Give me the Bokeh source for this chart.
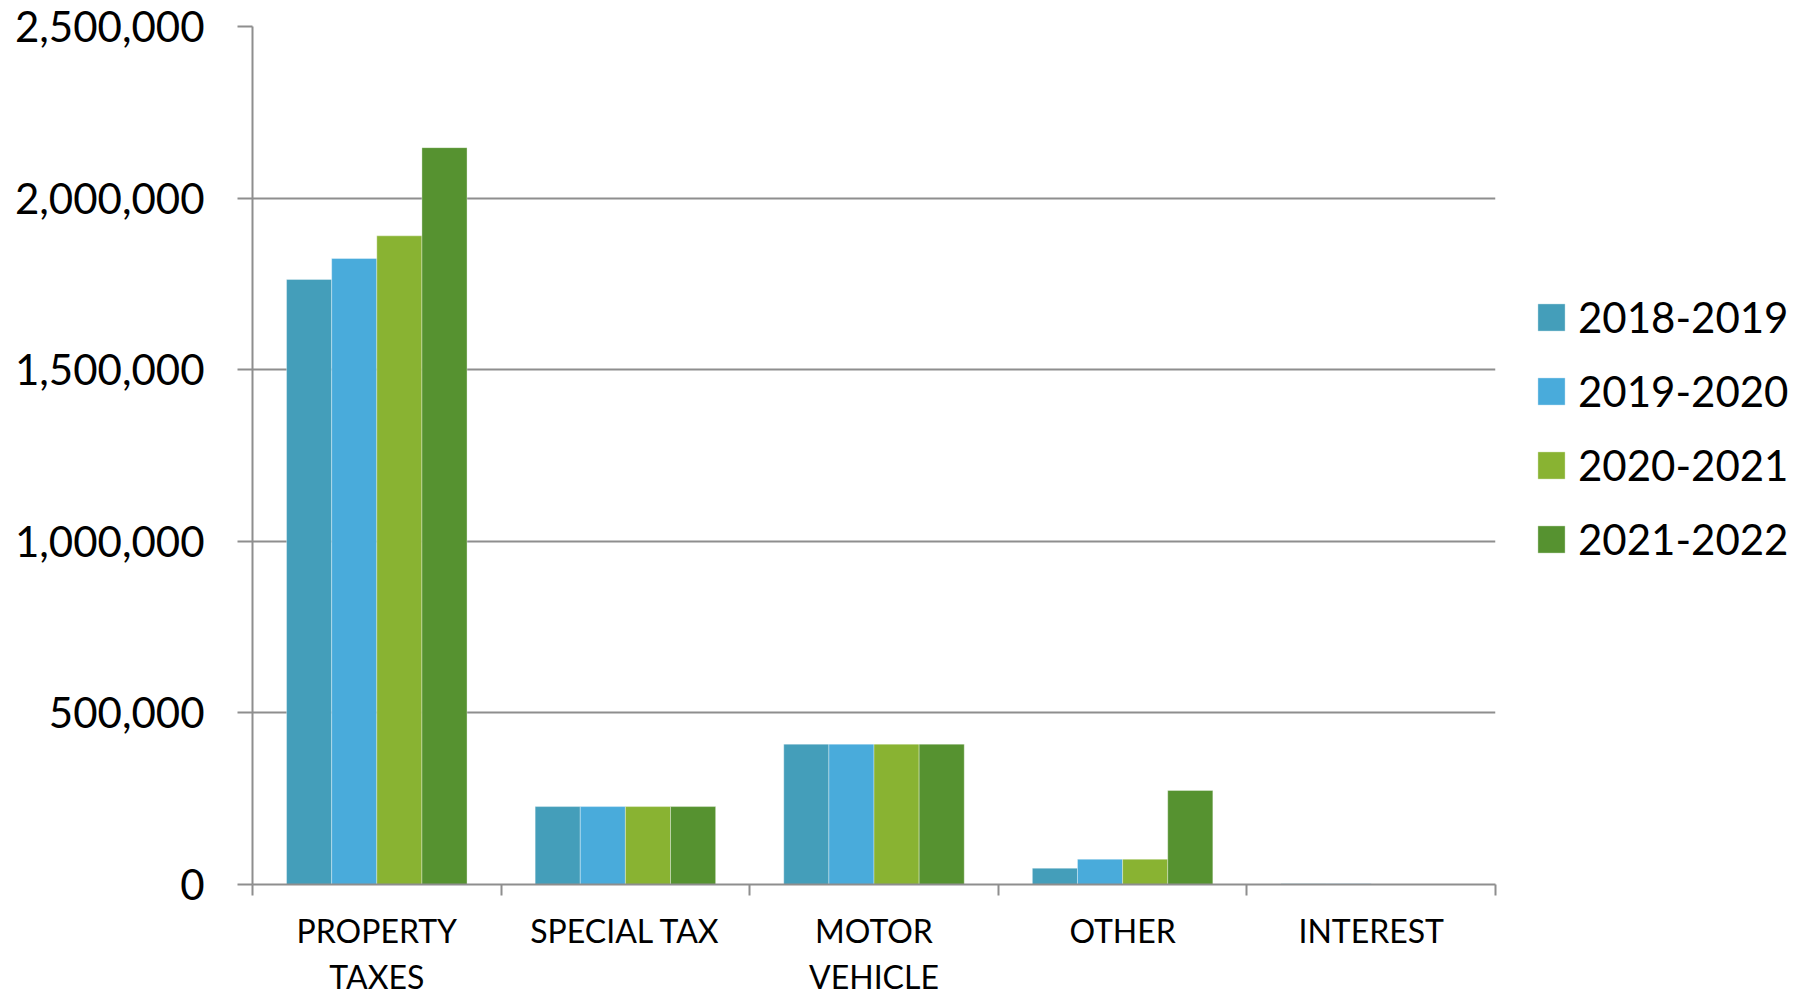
from bokeh.plotting import figure
from bokeh.models import (ColumnDataSource, Range1d, FixedTicker, NumeralTickFormatter,
                          CustomJSTickFormatter, Legend, LegendItem)
from bokeh.embed import file_html
from bokeh.resources import INLINE

# ---- data ----
categories = ["PROPERTY\nTAXES", "SPECIAL TAX", "MOTOR\nVEHICLE", "OTHER", "INTEREST"]
series_names = ["2018-2019", "2019-2020", "2020-2021", "2021-2022"]
v_2018_2019 = [1763000, 227000, 409000, 47500, 2000]
v_2019_2020 = [1824000, 227000, 409000, 73700, 2000]
v_2020_2021 = [1890000, 227000, 409000, 73700, 1500]
v_2021_2022 = [2147000, 227000, 409000, 274000, 1000]
series_values = [v_2018_2019, v_2019_2020, v_2020_2021, v_2021_2022]
y_ticks = [0, 500000, 1000000, 1500000, 2000000, 2500000]

colors = ["#449EBA", "#49ABDB", "#89B332", "#569230"]
FONT = "Lato"
GRID = "#8E8E8E"

n_cat = len(categories)
group_width = 0.726
bar_w = group_width / len(series_names)

p = figure(frame_width=1243, frame_height=858, output_backend="svg", toolbar_location=None,
           x_range=Range1d(0, n_cat), y_range=Range1d(0, y_ticks[-1]))
p.min_border_left = 252
p.min_border_right = 295
p.min_border_top = 26
p.min_border_bottom = 90
p.outline_line_color = None
p.background_fill_color = "white"
p.border_fill_color = "white"

renderers = []
for j, (name, vals) in enumerate(zip(series_names, series_values)):
    xs = [i + 0.5 + (j - (len(series_names) - 1) / 2) * bar_w for i in range(n_cat)]
    src = ColumnDataSource(dict(x=xs, top=vals))
    r = p.vbar(x="x", top="top", bottom=0, width=bar_w, source=src,
               fill_color=colors[j], line_color="white", line_alpha=0.35, line_width=1)
    renderers.append((name, r))

# y axis
yax = p.yaxis[0]
yax.ticker = FixedTicker(ticks=y_ticks)
yax.formatter = NumeralTickFormatter(format="0,0")
yax.major_tick_out = 15
yax.major_tick_in = 0
yax.minor_tick_out = 0
yax.minor_tick_in = 0
yax.axis_line_color = GRID
yax.axis_line_width = 2
yax.major_tick_line_color = GRID
yax.major_tick_line_width = 2
yax.major_label_standoff = 33
yax.major_label_text_font = FONT
yax.major_label_text_font_size = "42px"
yax.major_label_text_color = "black"

# x axis: labels at category centres, ticks at category boundaries
xax = p.xaxis[0]
xax.ticker = FixedTicker(ticks=[i + 0.5 for i in range(n_cat)],
                         minor_ticks=list(range(n_cat + 1)))
xax.formatter = CustomJSTickFormatter(args=dict(cats=categories),
                                      code="return cats[Math.floor(tick)];")
xax.major_tick_out = 0
xax.major_tick_in = 0
xax.minor_tick_out = 11
xax.minor_tick_in = 0
xax.minor_tick_line_color = GRID
xax.minor_tick_line_width = 2
xax.axis_line_color = GRID
xax.axis_line_width = 2
xax.major_label_standoff = 15
xax.major_label_text_font = FONT
xax.major_label_text_font_size = "32px"
xax.major_label_text_color = "black"
xax.major_label_text_line_height = 1.19

p.xgrid.visible = False
p.ygrid.ticker = FixedTicker(ticks=y_ticks)
p.ygrid.grid_line_color = GRID
p.ygrid.grid_line_width = 2

legend = Legend(items=[LegendItem(label=n, renderers=[r]) for n, r in renderers],
                location=(39, 320), orientation="vertical")
legend.glyph_width = 34
legend.glyph_height = 34
legend.label_standoff = 10
legend.label_text_font = FONT
legend.label_text_font_size = "42px"
legend.label_text_color = "black"
legend.spacing = 24
legend.padding = 0
legend.margin = 0
legend.border_line_color = None
legend.background_fill_alpha = 0
p.add_layout(legend, "right")

open("out.html", "w").write(file_html(p, INLINE))
